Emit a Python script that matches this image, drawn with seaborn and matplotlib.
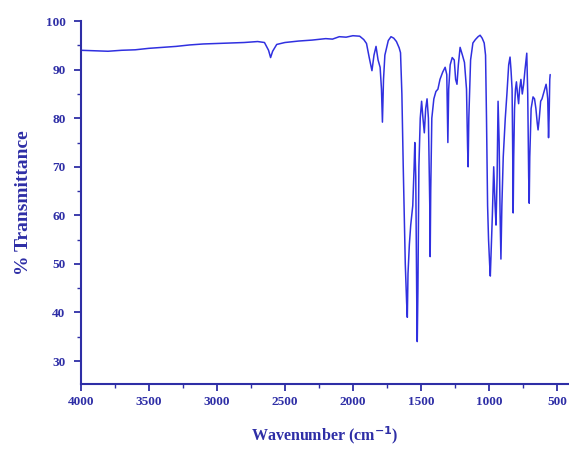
import numpy as np
import pandas as pd
import matplotlib
matplotlib.use('Agg')
import matplotlib.pyplot as plt
import seaborn as sns
from matplotlib.ticker import MultipleLocator

# wavenumber (cm-1) and % transmittance
wavenumber = [4000, 3900, 3800, 3700, 3600, 3500, 3400, 3300, 3200, 3100,
              3000, 2900, 2800, 2700, 2650, 2620, 2605, 2590, 2560, 2500,
              2400, 2300, 2200, 2150, 2100, 2050, 2000, 1950, 1920, 1900,
              1880, 1860, 1845, 1830, 1815, 1800, 1790, 1783, 1775, 1765,
              1740, 1720, 1700, 1680, 1660, 1650, 1640, 1630, 1615, 1605,
              1600, 1595, 1585, 1575, 1560, 1550, 1545, 1538, 1530, 1527,
              1522, 1515, 1505, 1495, 1485, 1475, 1465, 1455, 1445, 1435,
              1432, 1428, 1420, 1405, 1390, 1375, 1360, 1340, 1322, 1310,
              1302, 1296, 1285, 1270, 1255, 1245, 1235, 1225, 1212, 1195,
              1180, 1165, 1157, 1153, 1148, 1135, 1118, 1100, 1080, 1065,
              1050, 1035, 1025, 1018, 1010, 1003, 995, 990, 985, 975,
              965, 955, 948, 940, 933, 925, 918, 912, 905, 895,
              880, 868, 855, 845, 838, 830, 826, 822, 818, 812,
              805, 798, 790, 782, 775, 765, 755, 745, 735, 722,
              715, 708, 704, 700, 690, 676, 665, 655, 645, 639,
              630, 620, 610, 600, 590, 580, 575, 568, 562, 558,
              553, 550]
transmittance = [94.0, 93.9, 93.8, 94.0, 94.1, 94.4, 94.6, 94.8, 95.1, 95.3,
                 95.4, 95.5, 95.6, 95.8, 95.6, 94.0, 92.5, 93.8, 95.2, 95.6,
                 95.9, 96.1, 96.4, 96.3, 96.8, 96.7, 97.0, 96.9, 96.2, 95.4,
                 92.5, 89.8, 93.0, 94.8, 92.0, 90.5, 86.0, 79.2, 88.0, 93.0,
                 96.0, 96.8, 96.5, 95.8, 94.5, 93.5, 85.0, 70.0, 50.0, 42.0,
                 39.0, 48.0, 54.0, 58.0, 62.0, 70.0, 75.0, 68.0, 40.0, 34.0,
                 45.0, 70.0, 80.0, 83.5, 80.0, 77.0, 82.0, 84.0, 80.0, 62.0,
                 51.5, 65.0, 80.0, 84.0, 85.5, 86.0, 88.0, 89.5, 90.5, 89.0,
                 75.0, 86.0, 91.0, 92.5, 92.0, 88.0, 87.0, 91.0, 94.6, 93.0,
                 91.5, 86.0, 74.0, 70.0, 80.0, 92.0, 95.5, 96.2, 96.8, 97.1,
                 96.5, 95.5, 93.0, 80.0, 62.0, 55.0, 50.0, 47.5, 52.0, 60.0,
                 70.0, 62.0, 58.0, 68.0, 83.5, 75.0, 60.0, 51.0, 62.0, 72.0,
                 80.0, 85.0, 91.0, 92.6, 90.0, 86.0, 75.0, 60.5, 72.0, 82.0,
                 86.0, 87.5, 85.0, 83.0, 86.0, 88.0, 85.0, 87.0, 90.0, 93.4,
                 85.0, 68.0, 62.5, 72.0, 82.0, 84.4, 84.0, 82.0, 79.0, 77.6,
                 80.0, 83.5, 84.0, 85.0, 86.0, 87.0, 86.0, 84.0, 76.0, 80.0,
                 88.0, 89.0]

df = pd.DataFrame({'Wavenumber': wavenumber, 'Transmittance': transmittance})

sns.set_style('ticks')
plt.rcParams['font.family'] = ['Liberation Serif', 'DejaVu Serif']
plt.rcParams['font.weight'] = 'bold'

navy = '#2e2ea6'

fig = plt.figure(figsize=(5.69, 4.5), dpi=100)
ax = fig.add_axes([0.142, 0.147, 0.856, 0.806])

sns.lineplot(data=df, x='Wavenumber', y='Transmittance', color='#3030e0',
             linewidth=1.1, ax=ax)

ax.set_xlim(4000, 420)
ax.set_ylim(25.3, 100)
ax.xaxis.set_major_locator(MultipleLocator(500))
ax.xaxis.set_minor_locator(MultipleLocator(250))
ax.yaxis.set_major_locator(MultipleLocator(10))
ax.yaxis.set_minor_locator(MultipleLocator(5))
ax.set_yticks(range(30, 101, 10))

sns.despine(ax=ax)
for s in ['left', 'bottom']:
    ax.spines[s].set_color(navy)
    ax.spines[s].set_linewidth(1.5)
ax.tick_params(which='major', length=5, width=1.3, color=navy,
               labelcolor=navy, labelsize=9.5, direction='out')
ax.tick_params(axis='y', which='major', pad=6)
ax.tick_params(which='minor', length=3, width=1.0, color=navy, direction='out')
for lab in ax.get_xticklabels() + ax.get_yticklabels():
    lab.set_fontweight('bold')

ax.set_xlabel('Wavenumber (cm$^{\\mathbf{-1}}$)', color=navy, fontsize=11.5,
              fontweight='bold', labelpad=12)
ax.set_ylabel('% Transmittance', color=navy, fontsize=14,
              fontweight='bold', labelpad=10)

fig.savefig('out.png', dpi=100)
